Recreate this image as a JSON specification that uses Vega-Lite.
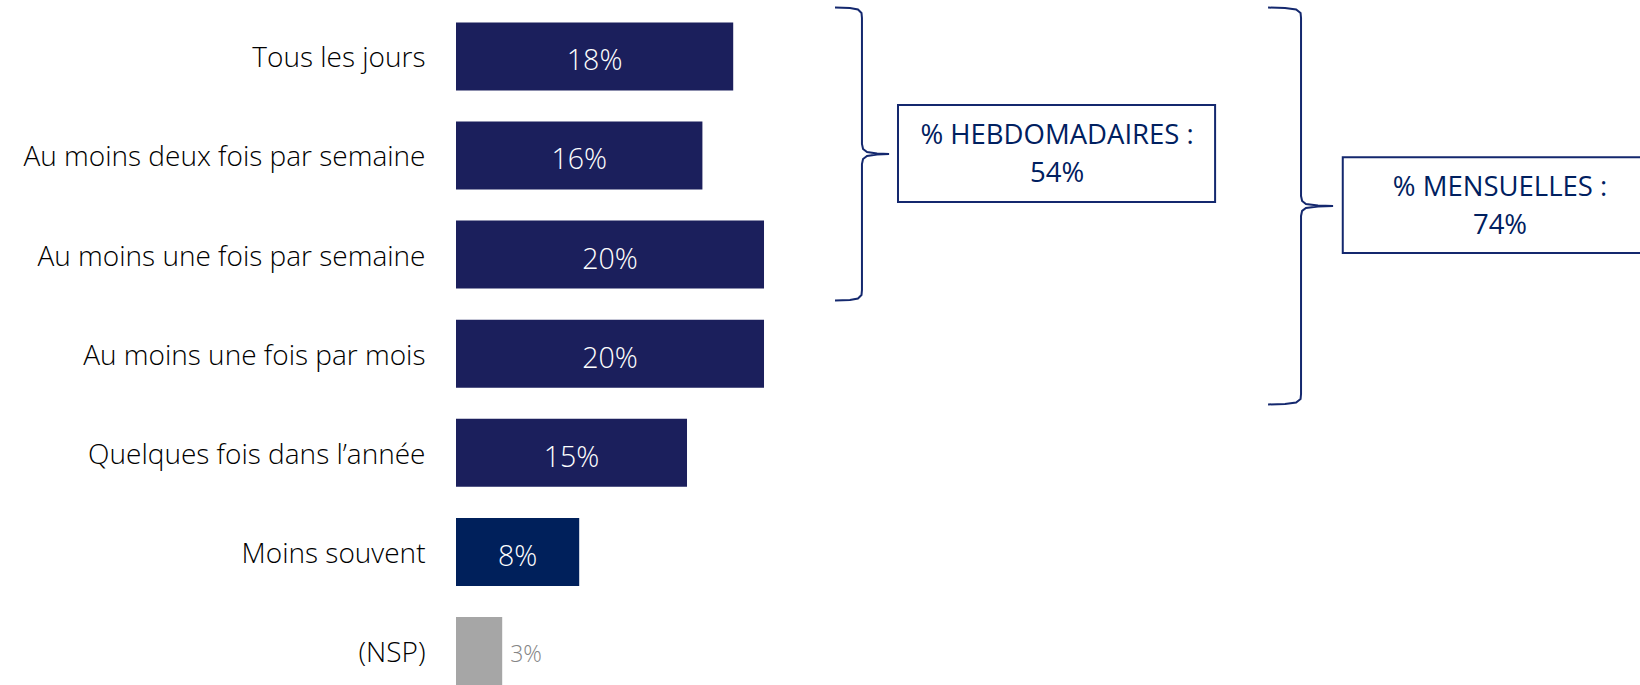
{
  "$schema": "https://vega.github.io/schema/vega-lite/v6.json",
  "autosize": "none",
  "width": 1184,
  "height": 685,
  "padding": {"left": 456, "top": 0, "right": 0, "bottom": 0},
  "background": "white",
  "config": {"view": {"stroke": null}, "font": "Open Sans"},
  "datasets": {
    "bars": [
      {"category": "Tous les jours", "value": 0.18},
      {"category": "Au moins deux fois par semaine", "value": 0.16},
      {"category": "Au moins une fois par semaine", "value": 0.20},
      {"category": "Au moins une fois par mois", "value": 0.20},
      {"category": "Quelques fois dans l’année", "value": 0.15},
      {"category": "Moins souvent", "value": 0.08},
      {"category": "(NSP)", "value": 0.03}
    ],
    "braces": [
      {"brace": "hebdo", "k": 1, "x": 0.2461, "y": -0.493},
      {"brace": "hebdo", "k": 2, "x": 0.2558, "y": -0.488},
      {"brace": "hebdo", "k": 3, "x": 0.2610, "y": -0.473},
      {"brace": "hebdo", "k": 4, "x": 0.2633, "y": -0.438},
      {"brace": "hebdo", "k": 5, "x": 0.2636, "y": -0.388},
      {"brace": "hebdo", "k": 6, "x": 0.2636, "y": 0.884},
      {"brace": "hebdo", "k": 7, "x": 0.2643, "y": 0.934},
      {"brace": "hebdo", "k": 8, "x": 0.2669, "y": 0.965},
      {"brace": "hebdo", "k": 9, "x": 0.2734, "y": 0.980},
      {"brace": "hebdo", "k": 10, "x": 0.2812, "y": 0.985},
      {"brace": "hebdo", "k": 11, "x": 0.2734, "y": 0.990},
      {"brace": "hebdo", "k": 12, "x": 0.2669, "y": 1.005},
      {"brace": "hebdo", "k": 13, "x": 0.2643, "y": 1.035},
      {"brace": "hebdo", "k": 14, "x": 0.2636, "y": 1.086},
      {"brace": "hebdo", "k": 15, "x": 0.2636, "y": 2.357},
      {"brace": "hebdo", "k": 16, "x": 0.2633, "y": 2.408},
      {"brace": "hebdo", "k": 17, "x": 0.2610, "y": 2.443},
      {"brace": "hebdo", "k": 18, "x": 0.2558, "y": 2.458},
      {"brace": "hebdo", "k": 19, "x": 0.2461, "y": 2.463},
      {"brace": "mens", "k": 1, "x": 0.5273, "y": -0.493},
      {"brace": "mens", "k": 2, "x": 0.5383, "y": -0.488},
      {"brace": "mens", "k": 3, "x": 0.5455, "y": -0.473},
      {"brace": "mens", "k": 4, "x": 0.5484, "y": -0.438},
      {"brace": "mens", "k": 5, "x": 0.5487, "y": -0.388},
      {"brace": "mens", "k": 6, "x": 0.5487, "y": 1.409},
      {"brace": "mens", "k": 7, "x": 0.5494, "y": 1.459},
      {"brace": "mens", "k": 8, "x": 0.5519, "y": 1.489},
      {"brace": "mens", "k": 9, "x": 0.5597, "y": 1.505},
      {"brace": "mens", "k": 10, "x": 0.5695, "y": 1.510},
      {"brace": "mens", "k": 11, "x": 0.5597, "y": 1.515},
      {"brace": "mens", "k": 12, "x": 0.5519, "y": 1.530},
      {"brace": "mens", "k": 13, "x": 0.5494, "y": 1.559},
      {"brace": "mens", "k": 14, "x": 0.5487, "y": 1.610},
      {"brace": "mens", "k": 15, "x": 0.5487, "y": 3.407},
      {"brace": "mens", "k": 16, "x": 0.5484, "y": 3.457},
      {"brace": "mens", "k": 17, "x": 0.5455, "y": 3.492},
      {"brace": "mens", "k": 18, "x": 0.5383, "y": 3.507},
      {"brace": "mens", "k": 19, "x": 0.5273, "y": 3.512}
    ],
    "boxes": [
      {"label": "% HEBDOMADAIRES :\n54%", "x1": 0.2870, "x2": 0.4929, "y1": 0.490, "y2": 1.469, "xc": 0.3903, "yc": 0.99},
      {"label": "% MENSUELLES :\n74%", "x1": 0.5758, "x2": 0.7818, "y1": 1.018, "y2": 1.984, "xc": 0.6779, "yc": 1.52}
    ]
  },
  "layer": [
    {
      "data": {"name": "bars"},
      "encoding": {
        "y": {
          "field": "category",
          "type": "nominal",
          "sort": null,
          "scale": {"paddingInner": 0.314, "paddingOuter": 0.113, "align": 1},
          "axis": {
            "title": null,
            "ticks": false,
            "domain": false,
            "labelFont": "Open Sans",
            "labelFontSize": 28,
            "labelFontWeight": 300,
            "labelColor": "#000000",
            "labelPadding": 31,
            "labelOffset": 3,
            "labelLimit": 600
          }
        }
      },
      "layer": [
        {
          "mark": {"type": "bar"},
          "encoding": {
            "x": {"field": "value", "type": "quantitative", "scale": {"domain": [0, 0.7688], "nice": false, "zero": false}, "axis": null},
            "color": {
              "field": "category",
              "type": "nominal",
              "legend": null,
              "scale": {
                "domain": ["Tous les jours", "Au moins deux fois par semaine", "Au moins une fois par semaine", "Au moins une fois par mois", "Quelques fois dans l’année", "Moins souvent", "(NSP)"],
                "range": ["#1b1f5c", "#1b1f5c", "#1b1f5c", "#1b1f5c", "#1b1f5c", "#00205b", "#a6a6a6"]
              }
            }
          }
        },
        {
          "transform": [{"filter": "datum.category === '(NSP)'"}],
          "mark": {"type": "text", "color": "#858585", "font": "Open Sans", "fontSize": 23, "fontWeight": 300, "align": "left", "baseline": "middle", "dx": 8, "dy": 4},
          "encoding": {
            "x": {"field": "value", "type": "quantitative", "scale": {"domain": [0, 0.7688], "nice": false, "zero": false}, "axis": null},
            "text": {"field": "value", "type": "quantitative", "format": ".0%"}
          }
        },
        {
          "transform": [{"filter": "datum.category !== '(NSP)'"}],
          "mark": {"type": "text", "color": "#ffffff", "font": "Open Sans", "fontSize": 28.5, "fontWeight": 300, "align": "center", "baseline": "middle", "dy": 5},
          "encoding": {
            "x": {"field": "value", "type": "quantitative", "scale": {"domain": [0, 1.5376], "nice": false, "zero": false}, "axis": null},
            "text": {"field": "value", "type": "quantitative", "format": ".0%"}
          }
        }
      ],
      "resolve": {"scale": {"x": "independent"}, "axis": {"x": "independent"}}
    },
    {
      "encoding": {},
      "layer": [
        {
          "data": {"name": "braces"},
          "mark": {"type": "line", "stroke": "#14286e", "strokeWidth": 2, "interpolate": "linear"},
          "encoding": {
            "x": {"field": "x", "type": "quantitative", "scale": {"domain": [0, 0.7688], "nice": false, "zero": false}, "axis": null},
            "y": {"field": "y", "type": "quantitative", "scale": {"domain": [-0.569, 6.343], "reverse": true, "nice": false, "zero": false}, "axis": null},
            "order": {"field": "k", "type": "quantitative"},
            "detail": {"field": "brace", "type": "nominal"}
          }
        },
        {
          "data": {"name": "boxes"},
          "mark": {"type": "rect", "fill": "#ffffff", "fillOpacity": 0, "stroke": "#14286e", "strokeWidth": 2},
          "encoding": {
            "x": {"field": "x1", "type": "quantitative"},
            "x2": {"field": "x2"},
            "y": {"field": "y1", "type": "quantitative"},
            "y2": {"field": "y2"}
          }
        },
        {
          "data": {"name": "boxes"},
          "mark": {"type": "text", "color": "#002060", "font": "Open Sans", "fontSize": 27.5, "fontWeight": 500, "align": "center", "baseline": "middle", "lineBreak": "\n", "lineHeight": 38, "dy": -19},
          "encoding": {
            "x": {"field": "xc", "type": "quantitative"},
            "y": {"field": "yc", "type": "quantitative"},
            "text": {"field": "label", "type": "nominal"}
          }
        }
      ]
    }
  ],
  "resolve": {"scale": {"x": "independent", "y": "independent"}, "axis": {"x": "independent", "y": "independent"}}
}
